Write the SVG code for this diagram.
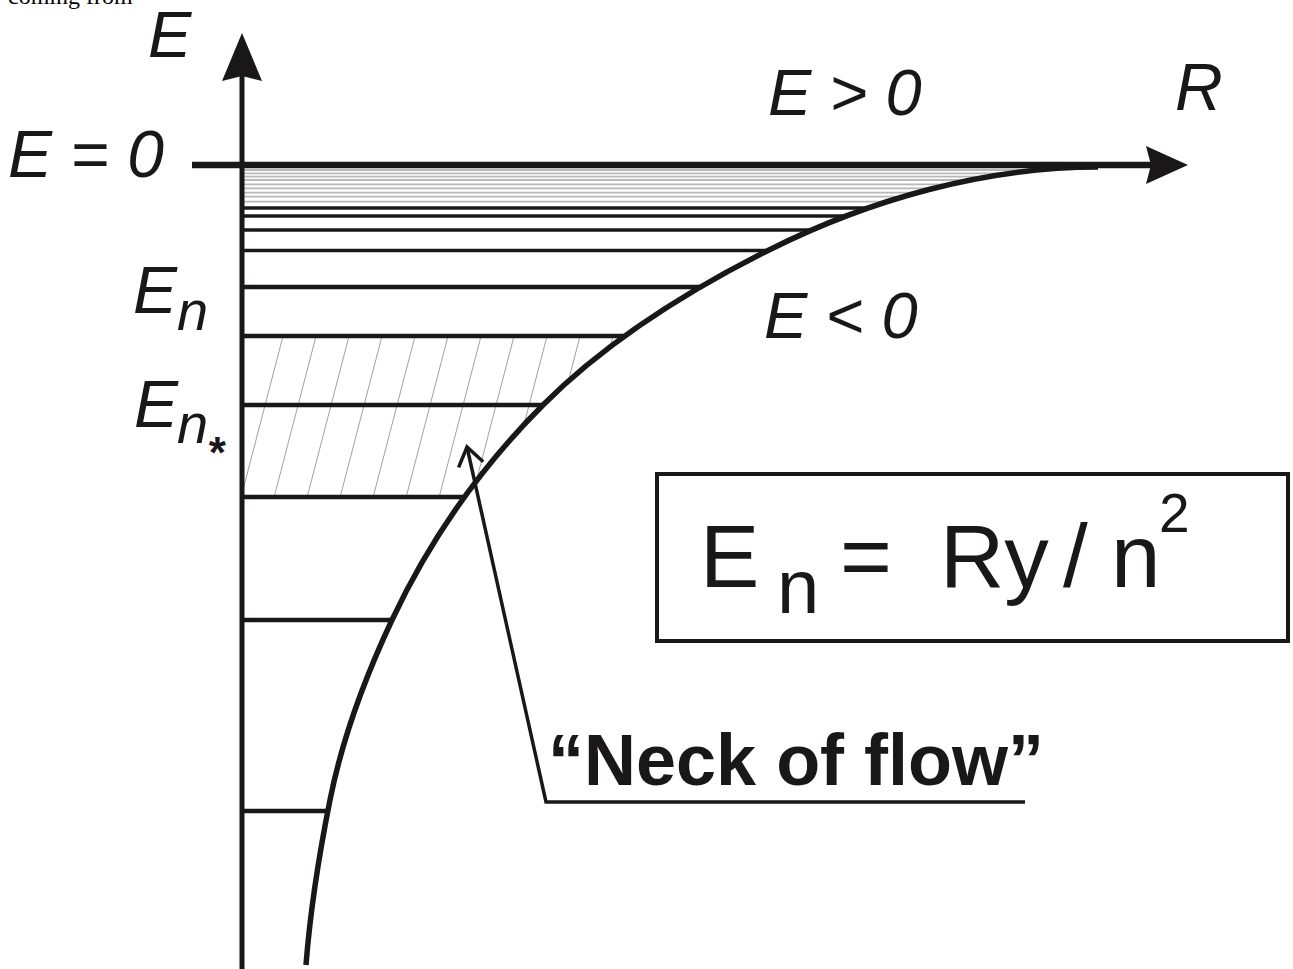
<svg xmlns="http://www.w3.org/2000/svg" width="1293" height="969" viewBox="0 0 1293 969">
<style>
.lbl{font-family:"Liberation Sans",Arial,sans-serif;font-style:italic;fill:#1a1718}
.ax{stroke:#1a1718;fill:none}
.lvl{stroke:#1a1718;stroke-width:4.5}
.lvlt{stroke:#1a1718;stroke-width:3.5}
.gry{stroke:#b8b8b8;stroke-width:1.8}
.hat{stroke:#a0a0a0;stroke-width:1}
.frm{font-family:"Liberation Sans",Arial,sans-serif;fill:#1a1718}
</style>
<defs>
<clipPath id="leftOfCurve">
<path d="M0,0 L0,969 L306,969 L306,965 C310.3,909.6 319.1,854.5 330,800 C342.4,737.7 365,677.5 392,620 C429.2,540.7 481.1,466.9 543,405 C607.6,340.4 687.4,290.8 769,250 C870.1,199.4 984.9,167 1098,167 L1098,0 Z"/>
</clipPath>
<clipPath id="band"><rect x="243" y="336" width="600" height="161"/></clipPath>
</defs>
<rect width="1293" height="969" fill="#fff"/>
<text x="8" y="4" font-family="Liberation Serif,Times New Roman,serif" font-size="24" fill="#000">coming from</text>
<g id="hatch" clip-path="url(#leftOfCurve)">
<g clip-path="url(#band)">
<line class="hat" x1="240.4" y1="500" x2="284.6" y2="330"/>
<line class="hat" x1="273.4" y1="500" x2="317.6" y2="330"/>
<line class="hat" x1="306.4" y1="500" x2="350.6" y2="330"/>
<line class="hat" x1="339.4" y1="500" x2="383.6" y2="330"/>
<line class="hat" x1="372.4" y1="500" x2="416.6" y2="330"/>
<line class="hat" x1="405.4" y1="500" x2="449.6" y2="330"/>
<line class="hat" x1="438.4" y1="500" x2="482.6" y2="330"/>
<line class="hat" x1="471.4" y1="500" x2="515.6" y2="330"/>
<line class="hat" x1="504.4" y1="500" x2="548.6" y2="330"/>
<line class="hat" x1="537.4" y1="500" x2="581.6" y2="330"/>
<line class="hat" x1="570.4" y1="500" x2="614.6" y2="330"/>
<line class="hat" x1="603.4" y1="500" x2="647.6" y2="330"/>
</g>
</g>
<g id="levels" clip-path="url(#leftOfCurve)">
<line class="gry" x1="242" y1="170" x2="1100" y2="170"/>
<line class="gry" x1="242" y1="173.3" x2="1100" y2="173.3"/>
<line class="gry" x1="242" y1="176.7" x2="1100" y2="176.7"/>
<line class="gry" x1="242" y1="180" x2="1100" y2="180"/>
<line class="gry" x1="242" y1="184.3" x2="1100" y2="184.3"/>
<line class="gry" x1="242" y1="188.3" x2="1100" y2="188.3"/>
<line class="gry" x1="242" y1="192.7" x2="1100" y2="192.7"/>
<line class="gry" x1="242" y1="196.7" x2="1100" y2="196.7"/>
<line class="gry" x1="242" y1="201.7" x2="1100" y2="201.7"/>
<line class="lvlt" x1="242" y1="208" x2="1100" y2="208"/>
<line class="lvlt" x1="242" y1="216" x2="1100" y2="216"/>
<line class="lvlt" x1="242" y1="230" x2="1100" y2="230"/>
<line class="lvlt" x1="242" y1="250.5" x2="1100" y2="250.5"/>
<line class="lvl" x1="242" y1="287" x2="1100" y2="287"/>
<line class="lvl" x1="242" y1="336" x2="1100" y2="336"/>
<line class="lvl" x1="242" y1="405" x2="1100" y2="405"/>
<line class="lvl" x1="242" y1="497" x2="1100" y2="497"/>
<line class="lvl" x1="242" y1="620" x2="1100" y2="620"/>
<line class="lvl" x1="242" y1="811" x2="1100" y2="811"/>
</g>
<g id="axes">
<line class="ax" x1="242" y1="969" x2="242" y2="70" stroke-width="5"/>
<polygon points="242,33 262,81 242,76 222,81" fill="#1a1718"/>
<line class="ax" x1="192" y1="165" x2="1155" y2="165" stroke-width="6.5"/>
<polygon points="1188,165 1146,184 1151,165 1146,146" fill="#1a1718"/>
</g>
<g id="curve">
<path class="ax" stroke-width="5.5" d="M306,965 C310.3,909.6 319.1,854.5 330,800 C342.4,737.7 365,677.5 392,620 C429.2,540.7 481.1,466.9 543,405 C607.6,340.4 687.4,290.8 769,250 C870.1,199.4 984.9,167 1098,167"/>
</g>
<g id="labels">
<text class="lbl" x="148" y="57" font-size="65">E</text>
<text class="lbl" x="8" y="177" font-size="66">E = 0</text>
<text class="lbl" x="768" y="115" font-size="65">E &gt; 0</text>
<text class="lbl" x="1175" y="110" font-size="66">R</text>
<text class="lbl" x="764" y="338" font-size="65">E &lt; 0</text>
<text class="lbl" x="133" y="313" font-size="66">E</text>
<text class="lbl" x="177" y="330" font-size="56">n</text>
<text class="lbl" x="134" y="427" font-size="66">E</text>
<text class="lbl" x="177" y="443" font-size="56">n</text>
<text class="lbl" x="207" y="468" font-size="44" font-weight="bold" font-style="normal">*</text>
</g>
<g id="formula">
<rect x="657" y="474" width="631" height="167" fill="none" stroke="#1a1718" stroke-width="4"/>
<text class="frm" y="587" font-size="89"><tspan x="700">E</tspan><tspan x="840">=</tspan><tspan x="940">Ry</tspan><tspan x="1063">/</tspan><tspan x="1111">n</tspan></text>
<text class="frm" x="777" y="613" font-size="76">n</text>
<text class="frm" x="1159" y="532" font-size="55">2</text>
</g>
<g id="neck">
<polyline class="ax" stroke-width="3.5" points="1025,802 546,802 467,447"/>
<polyline class="ax" stroke-width="3.5" points="458.6,467.3 467,447 483.2,461.8"/>
<text x="548" y="785" font-family="Liberation Sans,Arial,sans-serif" font-weight="bold" font-size="72" fill="#1a1718">“Neck of flow”</text>
</g>
</svg>
